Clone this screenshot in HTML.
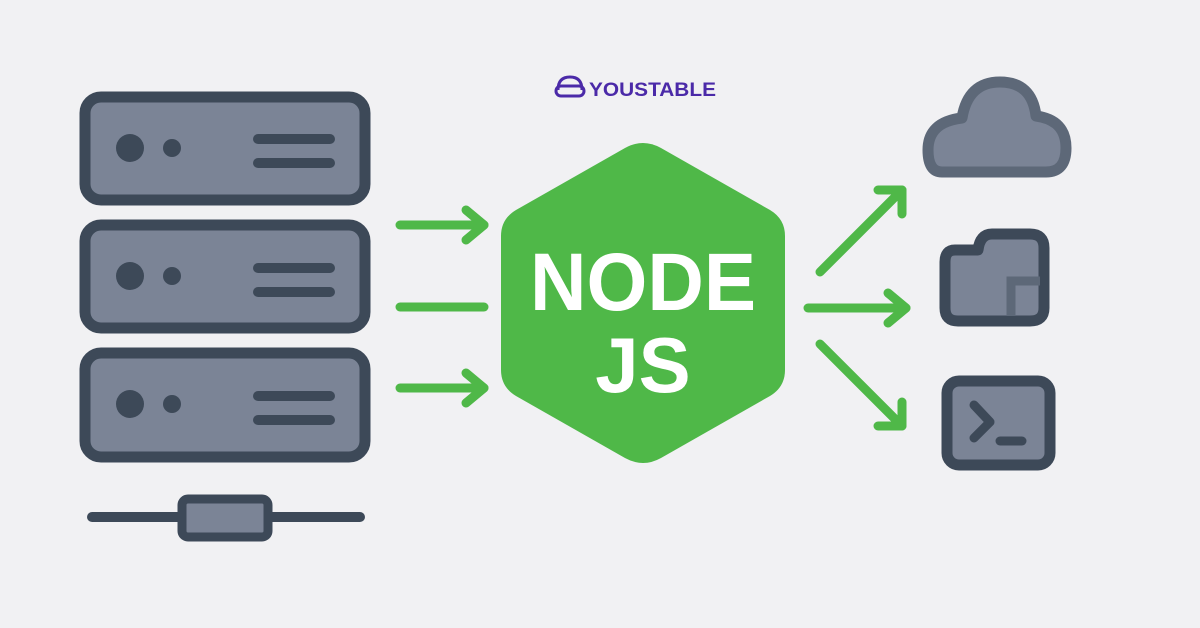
<!DOCTYPE html>
<html><head><style>html,body{margin:0;padding:0;background:#f1f1f3}svg{display:block}</style></head>
<body>
<svg width="1200" height="628" viewBox="0 0 1200 628" xmlns="http://www.w3.org/2000/svg">
<rect width="1200" height="628" fill="#f1f1f3"/>
<!-- servers -->
<g stroke="#3d4958" stroke-width="11" fill="#7b8496">
<rect x="85" y="97" width="280" height="103" rx="16"/>
<rect x="85" y="225" width="280" height="103" rx="16"/>
<rect x="85" y="353" width="280" height="104" rx="16"/>
</g>
<g fill="#3d4958">
<circle cx="130" cy="148" r="14"/><circle cx="172" cy="148" r="9"/>
<circle cx="130" cy="276" r="14"/><circle cx="172" cy="276" r="9"/>
<circle cx="130" cy="404" r="14"/><circle cx="172" cy="404" r="9"/>
</g>
<g stroke="#3d4958" stroke-width="10" stroke-linecap="round">
<line x1="258" y1="139" x2="330" y2="139"/><line x1="258" y1="163" x2="330" y2="163"/>
<line x1="258" y1="268" x2="330" y2="268"/><line x1="258" y1="292" x2="330" y2="292"/>
<line x1="258" y1="396" x2="330" y2="396"/><line x1="258" y1="420" x2="330" y2="420"/>
<line x1="92" y1="517" x2="360" y2="517"/>
</g>
<rect x="182" y="499" width="86" height="38" rx="6" fill="#7b8496" stroke="#3d4958" stroke-width="9"/>
<!-- logo -->
<g fill="none" stroke="#4b2aa8" stroke-width="3">
<path d="M558 90 q0-13 12-13 q12 0 12 13"/><rect x="556" y="86" width="28" height="10" rx="5"/>
</g>
<text x="589" y="96" font-family="Liberation Sans, sans-serif" font-weight="bold" font-size="19" fill="#4b2aa8" textLength="127" lengthAdjust="spacingAndGlyphs">YOUSTABLE</text>
<!-- hexagon -->
<path d="M625 148 Q643 138 661 148 L770 210 Q785 219 785 236 L785 370 Q785 387 770 396 L661 458 Q643 468 625 458 L516 396 Q501 387 501 370 L501 236 Q501 219 516 210 Z" fill="#4fb848"/>
<text x="643" y="310" text-anchor="middle" font-family="Liberation Sans, sans-serif" font-weight="bold" font-size="82" fill="#fff" textLength="226" lengthAdjust="spacingAndGlyphs">NODE</text>
<text x="643" y="392" text-anchor="middle" font-family="Liberation Sans, sans-serif" font-weight="bold" font-size="78" fill="#fff">JS</text>
<!-- arrows -->
<g stroke="#4fb848" stroke-width="9" stroke-linecap="round" stroke-linejoin="round" fill="none">
<line x1="400" y1="225" x2="484" y2="225"/><polyline points="466,210 484,225 466,240"/>
<line x1="400" y1="307" x2="484" y2="307"/>
<line x1="400" y1="388" x2="484" y2="388"/><polyline points="466,373 484,388 466,403"/>
<line x1="820" y1="272" x2="902" y2="190"/><polyline points="878,190 902,190 902,214"/>
<line x1="808" y1="308" x2="906" y2="308"/><polyline points="888,293 906,308 888,323"/>
<line x1="820" y1="344" x2="902" y2="426"/><polyline points="878,426 902,426 902,402"/>
</g>
<!-- cloud -->
<path d="M942 172 Q928 172 928 150 Q928 122 962 118 Q968 82 1000 82 Q1032 82 1036 116 Q1066 120 1066 148 Q1066 172 1046 172 Z" fill="#7b8496" stroke="#5d6878" stroke-width="11" stroke-linejoin="round"/>
<!-- folder -->
<path d="M955 250 L978 250 Q980 234 992 234 L1030 234 Q1044 234 1044 248 L1044 308 Q1044 321 1030 321 L958 321 Q945 321 945 308 L945 262 Q945 250 955 250 Z" fill="#7b8496" stroke="#3d4958" stroke-width="11" stroke-linejoin="round"/>
<path d="M1011 316 L1011 281 L1040 281" fill="none" stroke="#5d6878" stroke-width="9"/>
<!-- terminal -->
<rect x="947" y="381" width="103" height="84" rx="12" fill="#7b8496" stroke="#3d4958" stroke-width="11"/>
<g stroke="#3d4958" stroke-width="9" stroke-linecap="round" stroke-linejoin="round" fill="none">
<polyline points="974,405 990,422 974,438"/><line x1="1000" y1="441" x2="1022" y2="441"/>
</g>
</svg>
</body></html>
